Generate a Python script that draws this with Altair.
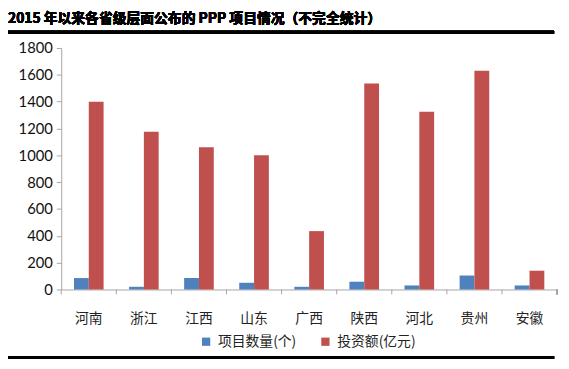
import altair as alt
import pandas as pd

provinces = ["河南", "浙江", "江西", "山东", "广西", "陕西", "河北", "贵州", "安徽"]
series_names = ["项目数量(个)", "投资额(亿元)"]
project_counts = [85, 20, 85, 50, 20, 58, 30, 104, 30]
investment = [1400, 1175, 1060, 1000, 435, 1535, 1325, 1630, 140]
y_ticks = [0, 200, 400, 600, 800, 1000, 1200, 1400, 1600, 1800]
title_text = "2015 年以来各省级层面公布的 PPP 项目情况（不完全统计）"

rows = []
for p, c, v in zip(provinces, project_counts, investment):
    rows.append({"省份": p, "系列": series_names[0], "值": c})
    rows.append({"省份": p, "系列": series_names[1], "值": v})
df = pd.DataFrame(rows)

W, H = 503, 245
CJK = "Noto Sans CJK SC"

bars = alt.Chart(df).mark_bar().encode(
    x=alt.X("省份:N", sort=provinces,
            scale=alt.Scale(paddingInner=0, paddingOuter=0),
            axis=alt.Axis(title=None, labelAngle=0, ticks=False, domainColor="#a6a6a6",
                          labelFont=CJK, labelFontSize=14, labelColor="#222222",
                          labelPadding=22)),
    xOffset=alt.XOffset("系列:N", sort=series_names,
                        scale=alt.Scale(paddingInner=0, paddingOuter=0.86)),
    y=alt.Y("值:Q", scale=alt.Scale(domain=[0, 1800], nice=False),
            axis=alt.Axis(title=None, values=y_ticks, grid=False, domainColor="#a6a6a6",
                          format="d",
                          tickColor="#a6a6a6", tickSize=5, labelPadding=4,
                          labelFont="Lato", labelFontSize=15, labelColor="#111111")),
    color=alt.Color("系列:N", sort=series_names,
                    scale=alt.Scale(domain=series_names, range=["#4F81BD", "#C0504D"]),
                    legend=alt.Legend(title=None, orient="none", direction="horizontal",
                                      legendX=140, legendY=291, symbolType="square",
                                      symbolSize=70, symbolStrokeWidth=0,
                                      labelFont=CJK, labelFontSize=14, labelColor="#222222",
                                      columnPadding=22, labelOffset=5)),
)

tick_df = pd.DataFrame({"省份": provinces})
xticks = alt.Chart(tick_df).mark_rule(color="#a6a6a6").encode(
    x=alt.X("省份:N", sort=provinces, bandPosition=0),
    y=alt.value(H), y2=alt.value(H + 5),
)
end_tick = alt.Chart(tick_df).mark_rule(color="#a6a6a6").encode(
    x=alt.value(W), y=alt.value(H), y2=alt.value(H + 5),
)

title = alt.Chart(tick_df).mark_text(
    text=title_text, align="left", baseline="middle", font=CJK,
    fontSize=14, fontWeight="bold", color="#000000",
).encode(x=alt.value(-54), y=alt.value(-29))

top_line = alt.Chart(tick_df).mark_rule(color="#000000", strokeWidth=3).encode(
    x=alt.value(-57), x2=alt.value(500), y=alt.value(-16),
)
bottom_line = alt.Chart(tick_df).mark_rule(color="#000000", strokeWidth=3).encode(
    x=alt.value(-57), x2=alt.value(500), y=alt.value(314),
)

chart = alt.layer(bars, xticks, end_tick, title, top_line, bottom_line).properties(
    width=W, height=H,
    autosize=alt.AutoSizeParams(type="none"),
    padding={"left": 54, "top": 38, "right": 4, "bottom": 70},
).configure_view(stroke=None)

chart.save("out.html", embed_options={"renderer": "svg", "actions": False})
